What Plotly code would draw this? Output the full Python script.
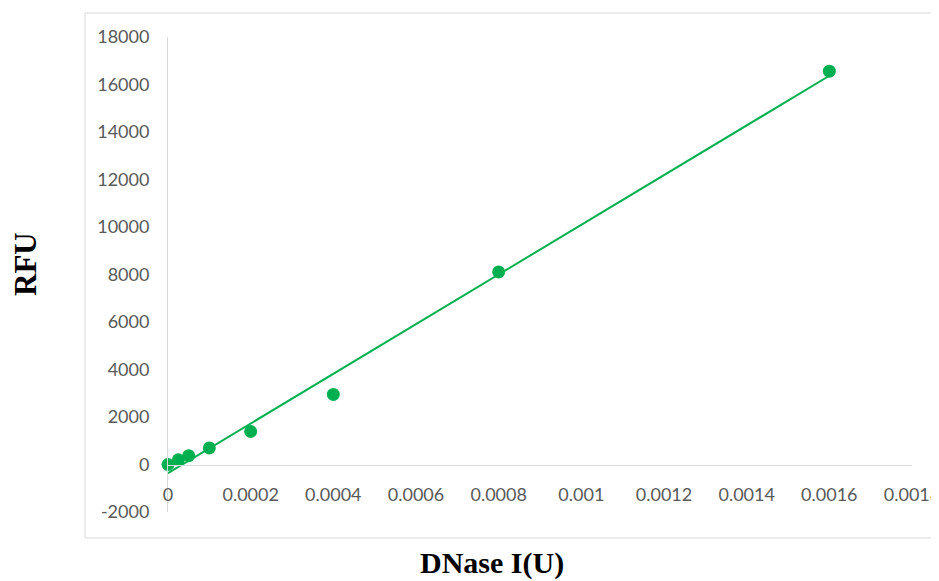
import numpy as np
import plotly.graph_objects as go

# Data
dnase_units = [0.0, 0.000025, 0.00005, 0.0001, 0.0002, 0.0004, 0.0008, 0.0016]
rfu_values = [0, 200, 370, 700, 1390, 2950, 8110, 16560]

x_ticks = [0, 0.0002, 0.0004, 0.0006, 0.0008, 0.001, 0.0012, 0.0014, 0.0016, 0.0018]
x_tick_labels = ["0", "0.0002", "0.0004", "0.0006", "0.0008", "0.001", "0.0012", "0.0014", "0.0016", "0.0018"]
y_ticks = [-2000, 0, 2000, 4000, 6000, 8000, 10000, 12000, 14000, 16000, 18000]
y_tick_labels = [str(v) for v in y_ticks]

GREEN = "#00B050"
GRAY_TXT = "#595959"
GRID = "#D9D9D9"

# Linear trendline (least squares, like Excel)
slope, intercept = np.polyfit(dnase_units, rfu_values, 1)
trend_x = [min(dnase_units), max(dnase_units)]
trend_y = [slope * v + intercept for v in trend_x]

fig = go.Figure()
fig.add_trace(go.Scatter(x=trend_x, y=trend_y, mode="lines",
                         line=dict(color=GREEN, width=2), hoverinfo="skip",
                         cliponaxis=False, showlegend=False))
fig.add_trace(go.Scatter(x=dnase_units, y=rfu_values, mode="markers",
                         marker=dict(color=GREEN, size=13),
                         cliponaxis=False, showlegend=False))

# page body has an 8px margin; compensate so the picture lines up
OFF = 8
W, H = 939 - OFF, 581 - OFF
L, T = 168 - OFF, 37 - OFF
R = W - (912 - OFF)
B = H - (512 - OFF)
pw, ph = W - L - R, H - T - B

def px_to_paper_x(px):
    return (px - OFF - L) / pw

def px_to_paper_y(py):
    return (H - B - (py - OFF)) / ph

fig.update_layout(
    width=W, height=H,
    margin=dict(l=L, r=R, t=T, b=B, autoexpand=False),
    paper_bgcolor="white", plot_bgcolor="white",
    font=dict(family="Lato, sans-serif", size=18, color=GRAY_TXT),
    xaxis=dict(range=[0, 0.0018], tickvals=x_ticks, ticktext=x_tick_labels,
               showgrid=False, zeroline=False, showline=True, linecolor=GRID,
               linewidth=1, ticks="", anchor="free", position=0.1,
               ticklabelstandoff=14, ticklabeloverflow="allow", automargin=False,
               tickfont=dict(size=18, color=GRAY_TXT)),
    yaxis=dict(range=[-2000, 18000], tickvals=y_ticks, ticktext=y_tick_labels,
               showgrid=False, zeroline=False, showline=True, linecolor=GRID,
               linewidth=1, ticks="", ticklabelstandoff=14, automargin=False,
               tickfont=dict(size=18, color=GRAY_TXT)),
    shapes=[dict(type="rect", xref="paper", yref="paper",
                 x0=px_to_paper_x(85), x1=px_to_paper_x(950),
                 y0=px_to_paper_y(538), y1=px_to_paper_y(13),
                 line=dict(color=GRID, width=1), fillcolor="rgba(0,0,0,0)",
                 layer="below")],
    annotations=[
        dict(text="<b>RFU</b>", xref="paper", yref="paper",
             x=px_to_paper_x(25), y=px_to_paper_y(264), showarrow=False,
             textangle=-90, xanchor="center", yanchor="middle",
             font=dict(family="Liberation Serif, Times New Roman, serif", size=31, color="black")),
        dict(text="<b>DNase I(U)</b>", xref="paper", yref="paper",
             x=px_to_paper_x(492), y=px_to_paper_y(563), showarrow=False,
             xanchor="center", yanchor="middle",
             font=dict(family="Liberation Serif, Times New Roman, serif", size=30, color="black")),
    ],
)

fig.write_html("out.html")
